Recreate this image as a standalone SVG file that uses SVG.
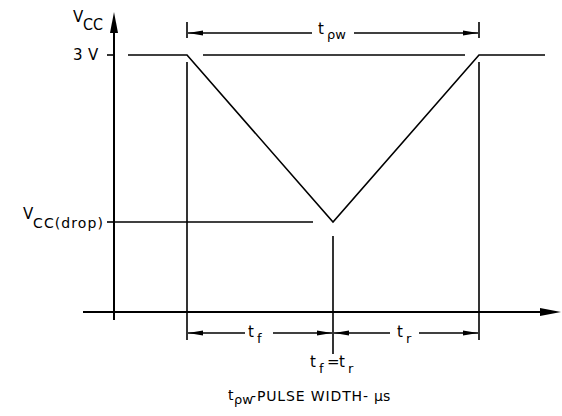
<svg xmlns="http://www.w3.org/2000/svg" width="562" height="416" viewBox="0 0 562 416">
<style>
.ln{stroke:#000;stroke-width:1.6;fill:none;stroke-linecap:butt}
.ax{stroke:#000;stroke-width:2;fill:none}
.ah{fill:#000;stroke:none}
.t{font-family:"DejaVu Sans","Liberation Sans",sans-serif;fill:#000}
.l{font-size:15px}
.m{font-size:14px}
.s{font-size:13px}
</style>
<rect width="562" height="416" fill="#fff"/>
<g id="connectors">
  <line class="ax" x1="114" y1="320" x2="114" y2="28"/>
  <polygon class="ah" points="114,12 118,33 110,33"/>
  <line class="ax" x1="83" y1="312" x2="545" y2="312"/>
  <polygon class="ah" points="561,312 540,308 540,316"/>
  <line class="ln" x1="107" y1="55" x2="114" y2="55"/>
  <line class="ln" x1="107" y1="222" x2="114" y2="222"/>
  <polyline class="ln" points="128,55 187,55 333,222 479,55 545,55"/>
  <line class="ln" x1="203" y1="55" x2="465" y2="55"/>
  <line class="ln" x1="114" y1="222" x2="313" y2="222"/>
  <line class="ln" x1="187" y1="22" x2="187" y2="38"/>
  <line class="ln" x1="187" y1="62" x2="187" y2="340"/>
  <line class="ln" x1="479" y1="22" x2="479" y2="38"/>
  <line class="ln" x1="479" y1="62" x2="479" y2="340"/>
  <line class="ln" x1="333" y1="236" x2="333" y2="354"/>
  <line class="ln" x1="188" y1="33" x2="312" y2="33"/>
  <line class="ln" x1="354" y1="33" x2="478" y2="33"/>
  <polygon class="ah" points="188,33 203,30.5 203,35.5"/>
  <polygon class="ah" points="478,33 463,30.5 463,35.5"/>
  <line class="ln" x1="188" y1="333" x2="245" y2="333"/>
  <line class="ln" x1="273" y1="333" x2="332" y2="333"/>
  <line class="ln" x1="334" y1="333" x2="390" y2="333"/>
  <line class="ln" x1="419" y1="333" x2="478" y2="333"/>
  <polygon class="ah" points="188,333 203,330.5 203,335.5"/>
  <polygon class="ah" points="332,333 317,330.5 317,335.5"/>
  <polygon class="ah" points="334,333 349,330.5 349,335.5"/>
  <polygon class="ah" points="478,333 463,330.5 463,335.5"/>
</g>
<g id="label-vcc">
  <text class="t l" x="73" y="22">V</text>
  <text class="t l" x="83" y="30" textLength="20" lengthAdjust="spacingAndGlyphs">CC</text>
</g>
<g id="label-3v">
  <text class="t l" x="73" y="60">3</text>
  <text class="t l" x="88" y="60">V</text>
</g>
<g id="label-vccdrop">
  <text class="t l" x="23" y="219">V</text>
  <text class="t m" x="33" y="228" textLength="70" lengthAdjust="spacing">CC(drop)</text>
</g>
<g id="label-tpw">
  <text class="t l" x="318" y="34">t</text>
  <text class="t s" x="327" y="39">ρw</text>
</g>
<g id="label-tf">
  <text class="t l" x="248" y="337">t</text>
  <text class="t s" x="257" y="343">f</text>
</g>
<g id="label-tr">
  <text class="t l" x="397" y="337">t</text>
  <text class="t s" x="406" y="343">r</text>
</g>
<g id="label-tfeqtr">
  <text class="t l" x="310" y="367">t</text>
  <text class="t s" x="319" y="373">f</text>
  <text class="t l" x="327" y="367">=</text>
  <text class="t l" x="339" y="367">t</text>
  <text class="t s" x="348" y="373">r</text>
</g>
<g id="label-bottom">
  <text class="t m" x="228" y="400">t</text>
  <text class="t s" x="234" y="404">ρw</text>
  <text class="t m" x="251" y="401" textLength="117" lengthAdjust="spacing">-PULSE WIDTH-</text>
  <text class="t m" x="374" y="401">μs</text>
</g>
</svg>
